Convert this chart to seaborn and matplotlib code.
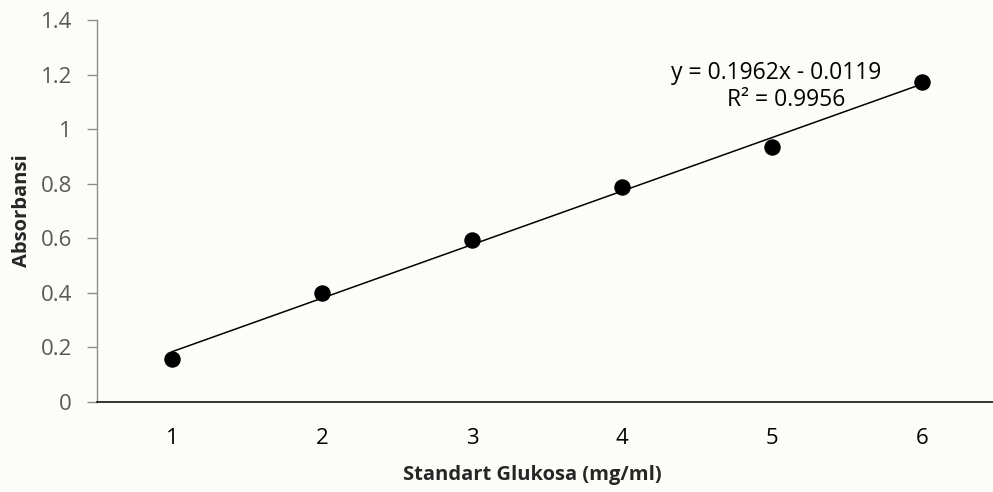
import matplotlib
matplotlib.use("Agg")
import matplotlib.pyplot as plt
import seaborn as sns
import numpy as np
import pandas as pd

# standard curve readings
konsentrasi = [1, 2, 3, 4, 5, 6]
absorbansi = [0.157, 0.399, 0.595, 0.787, 0.934, 1.172]
slope = 0.1962
intercept = -0.0119
r_squared = 0.9956

df = pd.DataFrame({"x": konsentrasi, "y": absorbansi})

sns.set_style("white")
plt.rcParams["font.family"] = ["Open Sans", "DejaVu Sans"]

bg = "#fcfcf8"
fs = 16
fig = plt.figure(figsize=(9.93, 4.92), dpi=100, facecolor=bg)
ax = fig.add_axes([97 / 993, 90 / 492, 896 / 993, 382 / 492])
ax.set_facecolor(bg)

# trendline from the fitted equation
xs = np.array([min(konsentrasi), max(konsentrasi)])
ax.plot(xs, slope * xs + intercept, color="black", linewidth=1.1, zorder=2)

sns.scatterplot(data=df, x="x", y="y", ax=ax, color="black", s=120,
                edgecolor="black", zorder=3, legend=False)

ax.set_xlim(0.5, 0.5 + 896 / 150)
ax.set_ylim(0, 1.4)
ax.set_yticks(np.arange(0, 1.41, 0.2))
ax.set_yticklabels(["0", "0.2", "0.4", "0.6", "0.8", "1", "1.2", "1.4"])
ax.set_xticks(konsentrasi)

for s in ["top", "right"]:
    ax.spines[s].set_visible(False)
ax.spines["left"].set_color("#8c8c8c")
ax.spines["left"].set_linewidth(1)
ax.spines["bottom"].set_color("black")
ax.spines["bottom"].set_linewidth(1.1)

ax.tick_params(axis="y", length=7, width=1, color="#8c8c8c",
               labelcolor="#595959", labelsize=fs, pad=11, left=True)
ax.tick_params(axis="x", length=0, labelcolor="black", labelsize=fs, pad=19)

ax.set_xlabel("Standart Glukosa (mg/ml)", fontsize=14.5, fontweight="bold")
ax.xaxis.set_label_coords(0.4855, -0.165)
ax.set_ylabel("Absorbansi", fontsize=14.5, fontweight="bold", labelpad=6)

ax.text(5.025, 1.205, f"y = {slope}x - {abs(intercept)}", fontsize=16.5,
        ha="center", va="center", color="black")
ax.text(5.095, 1.105, f"R² = {r_squared}", fontsize=16.5,
        ha="center", va="center", color="black")

fig.savefig("out.png", dpi=100, facecolor=bg)
